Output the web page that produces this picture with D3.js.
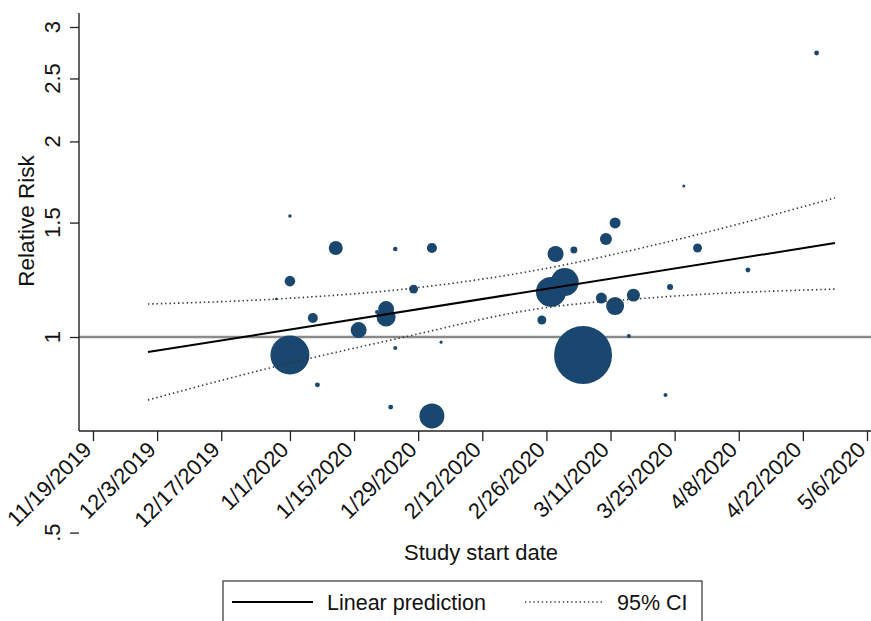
<!DOCTYPE html>
<html>
<head>
<meta charset="utf-8">
<script src="https://cdn.jsdelivr.net/npm/d3@7"></script>
<style>
  html, body { margin: 0; padding: 0; background: #fff; }
  svg { display: block; font-family: "Liberation Sans", Arial, Helvetica, sans-serif; }
</style>
</head>
<body>
<svg id="chart" width="871" height="621"></svg>
<script>
// ---------- data ----------
const xTickLabels = ["11/19/2019","12/3/2019","12/17/2019","1/1/2020","1/15/2020","1/29/2020","2/12/2020","2/26/2020","3/11/2020","3/25/2020","4/8/2020","4/22/2020","5/6/2020"];
const yTickValues = [0.5, 1, 1.5, 2, 2.5, 3];
const yTickLabels = [".5", "1", "1.5", "2", "2.5", "3"];

const studyDates = ["1/11/2020","1/24/2020","2/1/2020","1/1/2020","1/28/2020","1/6/2020","1/22/2020","1/22/2020","1/20/2020","1/16/2020",
  "1/1/2020","1/24/2020","2/3/2020","1/7/2020","1/23/2020","2/1/2020","1/1/2020","12/29/2019",
  "3/12/2020","3/10/2020","2/28/2020","3/3/2020","3/30/2020","2/27/2020","3/1/2020","3/24/2020","3/16/2020","3/9/2020","3/12/2020",
  "2/25/2020","3/5/2020","3/15/2020","3/23/2020","4/25/2020","3/27/2020","4/10/2020"];
const relativeRisk = [1.371,1.366,1.371,1.219,1.185,1.070,1.104,1.073,1.093,1.025,
  0.938,0.962,0.982,0.844,0.780,0.756,1.535,1.144,
  1.498,1.415,1.342,1.361,1.371,1.173,1.215,1.194,1.160,1.148,1.116,
  1.062,0.938,1.004,0.814,2.736,1.708,1.268];
const studyWeights = [49,5,25,28,20,25,64,90,4,64,
  380,4,2.3,6,6,156,3,1.5,
  30,36,64,12,20,225,196,9,42,30,81,
  20,841,4,4,6,2.3,6];

const predDates = ["12/1/2019","4/29/2020"];
const predValues = [0.948, 1.395];
const ciDates = ["12/1/2019","12/29/2019","1/26/2020","2/23/2020","3/22/2020","4/29/2020"];
const ciUpper = [1.124, 1.144, 1.185, 1.264, 1.393, 1.637];
const ciLower = [0.800, 0.901, 1.000, 1.102, 1.152, 1.185];

// ---------- helpers ----------
function parseDate(s) { const [m, d, yy] = s.split("/").map(Number); return new Date(yy, m - 1, d); }

const svg = d3.select("#chart");
const FONT = 21.5;
const TICKFONT = 22;
const plotLeft = 79, plotRight = 871, plotTop = 13, plotBottom = 431;

const x = d3.scaleTime()
  .domain([parseDate("11/19/2019"), parseDate("5/6/2020")])
  .range([93, 867]);
const y = d3.scaleLog()
  .domain([0.5, 3])
  .range([532.6, 27]);
const r = d3.scaleSqrt().domain([0, 841]).range([0, 29]);

const navy = "#1a476f";

// reference line at RR = 1
svg.append("line")
  .attr("x1", plotLeft).attr("x2", plotRight)
  .attr("y1", y(1)).attr("y2", y(1))
  .attr("stroke", "#8a8a8a").attr("stroke-width", 2.6);

// bubbles
const pts = studyDates.map((d, i) => ({ date: parseDate(d), rr: relativeRisk[i], w: studyWeights[i] }))
  .sort((a, b) => b.w - a.w);
svg.append("g").selectAll("circle").data(pts).join("circle")
  .attr("cx", d => x(d.date))
  .attr("cy", d => y(d.rr))
  .attr("r", d => Math.max(1.2, r(d.w)))
  .attr("fill", navy);

// CI lines
const ciLine = d3.line().x(d => x(d[0])).y(d => y(d[1])).curve(d3.curveMonotoneX);
[ciUpper, ciLower].forEach(arr => {
  svg.append("path")
    .datum(ciDates.map((d, i) => [parseDate(d), arr[i]]))
    .attr("d", ciLine)
    .attr("fill", "none")
    .attr("stroke", "#333")
    .attr("stroke-width", 1.6)
    .attr("stroke-dasharray", "1.4,2.9");
});

// prediction line
svg.append("path")
  .datum(predDates.map((d, i) => [parseDate(d), predValues[i]]))
  .attr("d", d3.line().x(d => x(d[0])).y(d => y(d[1])))
  .attr("fill", "none")
  .attr("stroke", "#000")
  .attr("stroke-width", 2);

// axes
const axisColor = "#222";
const yAxis = d3.axisLeft(y).tickValues(yTickValues).tickSize(9).tickFormat("");
const yg = svg.append("g").attr("transform", `translate(${plotLeft},0)`).call(yAxis);
yg.select(".domain").remove();
yg.selectAll(".tick line").attr("stroke", axisColor).attr("stroke-width", 1.3);
svg.append("line").attr("x1", plotLeft).attr("x2", plotLeft).attr("y1", plotTop).attr("y2", plotBottom)
  .attr("stroke", axisColor).attr("stroke-width", 1.4);
yTickValues.forEach((v, i) => {
  svg.append("text")
    .attr("transform", `translate(60,${y(v)}) rotate(-90)`)
    .attr("text-anchor", "middle")
    .attr("font-size", TICKFONT)
    .attr("fill", "#111")
    .text(yTickLabels[i]);
});

const xTicks = xTickLabels.map(parseDate);
const xAxis = d3.axisBottom(x).tickValues(xTicks).tickSize(10).tickFormat("");
const xg = svg.append("g").attr("transform", `translate(0,${plotBottom})`).call(xAxis);
xg.select(".domain").remove();
xg.selectAll(".tick line").attr("stroke", axisColor).attr("stroke-width", 1.3);
svg.append("line").attr("x1", plotLeft).attr("x2", plotRight).attr("y1", plotBottom).attr("y2", plotBottom)
  .attr("stroke", axisColor).attr("stroke-width", 1.4);
xTicks.forEach((d, i) => {
  svg.append("text")
    .attr("transform", `translate(${x(d)},451) rotate(-45)`)
    .attr("text-anchor", "end")
    .attr("font-size", TICKFONT)
    .attr("fill", "#111")
    .text(xTickLabels[i]);
});

// axis titles
svg.append("text")
  .attr("x", 481).attr("y", 560)
  .attr("text-anchor", "middle")
  .attr("font-size", 22)
  .attr("fill", "#111")
  .text("Study start date");
svg.append("text")
  .attr("transform", "translate(34,221) rotate(-90)")
  .attr("text-anchor", "middle")
  .attr("font-size", 22.5)
  .attr("fill", "#111")
  .text("Relative Risk");

// legend
const lg = svg.append("g");
lg.append("rect").attr("x", 223).attr("y", 581).attr("width", 479).attr("height", 70)
  .attr("fill", "#fff").attr("stroke", "#333").attr("stroke-width", 1.2);
lg.append("line").attr("x1", 232).attr("x2", 313).attr("y1", 602).attr("y2", 602)
  .attr("stroke", "#000").attr("stroke-width", 2);
lg.append("text").attr("x", 327).attr("y", 610).attr("font-size", FONT).attr("fill", "#111").text("Linear prediction");
lg.append("line").attr("x1", 525).attr("x2", 603).attr("y1", 602).attr("y2", 602)
  .attr("stroke", "#333").attr("stroke-width", 1.4).attr("stroke-dasharray", "1.3,2.9");
lg.append("text").attr("x", 617).attr("y", 610).attr("font-size", FONT).attr("fill", "#111").text("95% CI");
</script>
</body>
</html>
